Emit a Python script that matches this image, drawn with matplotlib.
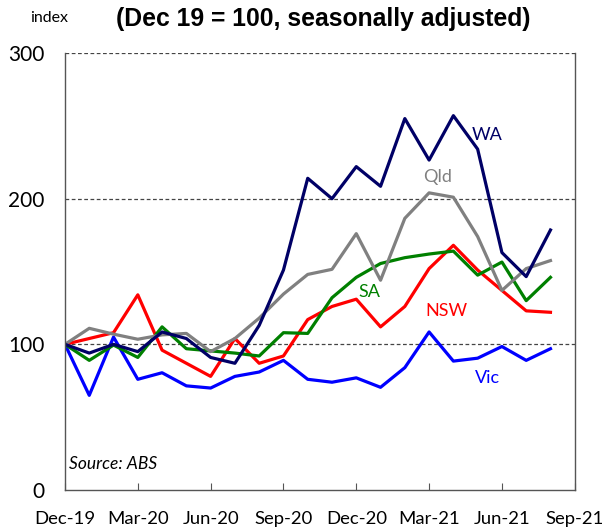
import numpy as np
import matplotlib
matplotlib.use("Agg")
import matplotlib.pyplot as plt

# monthly, Dec-19 .. Aug-21 (index, Dec 19 = 100)
months = np.arange(21)
wa = [100, 94, 100, 95, 108.5, 104, 91, 87, 113, 151, 214, 200, 222, 208.5, 255, 226.5, 257, 234, 163, 146.5, 178.5]
qld = [100, 111, 107, 103.5, 106.5, 107.5, 95, 104, 118, 134.5, 148, 151.5, 176, 144, 186.5, 204, 201, 174, 137, 152, 157.5]
sa = [100, 89, 99.5, 91, 112, 97, 95.5, 94, 92, 108, 107.5, 132, 146, 155.5, 159.5, 162, 164, 147.5, 156.5, 130, 146]
nsw = [100, 104, 108, 134, 96, 87, 78, 104, 87, 92, 117, 126, 131, 112, 126, 152, 168, 151, 137, 123, 122]
vic = [100, 65, 105, 76, 80.5, 71.5, 70, 78, 81, 89, 76, 74, 77, 70.5, 84, 108.5, 88.5, 90.5, 98.5, 89, 97]

tick_pos = [0, 3, 6, 9, 12, 15, 18, 21]
tick_labels = ["Dec-19", "Mar-20", "Jun-20", "Sep-20", "Dec-20", "Mar-21", "Jun-21", "Sep-21"]

plt.rcParams["font.family"] = ["Lato", "DejaVu Sans"]

fig = plt.figure(figsize=(6.05, 5.27), dpi=100)
ax = fig.add_axes([0.1074, 0.0702, 0.8426, 0.8292])

lw = 2.3
ax.plot(months, vic, color="#0000ff", lw=lw)
ax.plot(months, nsw, color="#ff0000", lw=lw)
ax.plot(months, sa, color="#008000", lw=lw)
ax.plot(months, qld, color="#808080", lw=lw)
ax.plot(months, wa, color="#000066", lw=lw)

# series labels
ax.text(17.4, 243.5, "WA", color="#000066", fontsize=13, ha="center", va="center")
ax.text(15.35, 215, "Qld", color="#808080", fontsize=13, ha="center", va="center")
ax.text(12.55, 136, "SA", color="#008000", fontsize=13, ha="center", va="center")
ax.text(15.7, 123, "NSW", color="#ff0000", fontsize=13, ha="center", va="center")
ax.text(17.4, 77, "Vic", color="#0000ff", fontsize=13, ha="center", va="center")

ax.set_xlim(0, 21)
ax.set_ylim(0, 300)
ax.set_yticks([0, 100, 200, 300])
ax.set_xticks(tick_pos)
ax.set_xticklabels(tick_labels)
ax.tick_params(axis="x", direction="in", length=5, width=0.8, color="#555555",
               labelsize=13.3, pad=15)
ax.tick_params(axis="y", length=0, labelsize=15, pad=15)

for y in [100, 200, 300]:
    ax.axhline(y, color="#444444", lw=0.9, ls=(0, (3, 2)), zorder=0)

ax.spines["top"].set_visible(False)
for s in ["left", "right", "bottom"]:
    ax.spines[s].set_color("#555555")
    ax.spines[s].set_linewidth(1.0)

ax.text(0.008, 0.0595, "Source: ABS", transform=ax.transAxes, fontsize=12.5,
        style="italic", ha="left", va="center")

fig.text(0.535, 0.964, "(Dec 19 = 100, seasonally adjusted)", fontsize=17.8,
         fontweight="bold", family="Liberation Sans", ha="center", va="center")
fig.text(0.05, 0.966, "index", fontsize=11.5, ha="left", va="center")

fig.savefig("out.png", dpi=100)
